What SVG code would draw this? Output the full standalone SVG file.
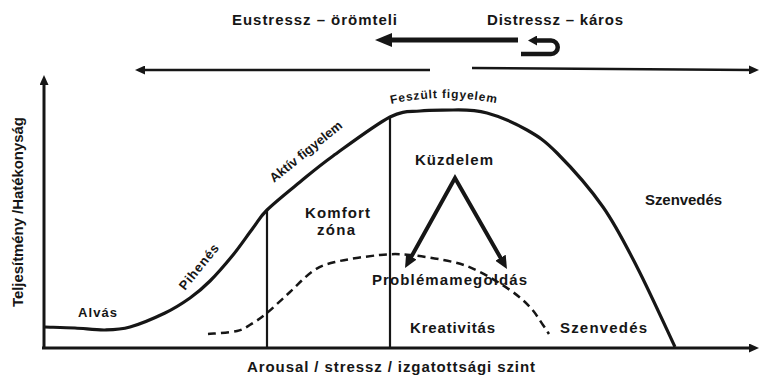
<svg xmlns="http://www.w3.org/2000/svg" width="759" height="378" viewBox="0 0 759 378">
<style>
text{font-family:"Liberation Sans",Arial,sans-serif;font-weight:bold;fill:#161616}
.t14{font-size:15px}
.t12{font-size:13px}
.t11{font-size:12px}
.ln{fill:none;stroke:#161616;stroke-linecap:butt}
</style>
<defs>
<marker id="ah" markerUnits="userSpaceOnUse" markerWidth="10" markerHeight="9" viewBox="0 0 10 9" refX="3" refY="4.5" orient="auto"><path d="M0,0 L10,4.5 L0,9 z" fill="#161616"/></marker>
<marker id="ahb" markerUnits="userSpaceOnUse" markerWidth="17" markerHeight="14" viewBox="0 0 17 14" refX="4" refY="7" orient="auto"><path d="M0,0 L17,7 L0,14 z" fill="#161616"/></marker>
<marker id="ahm" markerUnits="userSpaceOnUse" markerWidth="13" markerHeight="12" viewBox="0 0 13 12" refX="3" refY="6" orient="auto-start-reverse"><path d="M0,0 L13,6 L0,12 z" fill="#161616"/></marker>
<marker id="ahs" markerUnits="userSpaceOnUse" markerWidth="9" markerHeight="10" viewBox="0 0 9 10" refX="2" refY="5" orient="auto-start-reverse"><path d="M0,0 L9,5 L0,10 z" fill="#161616"/></marker>
<path id="fz" d="M391,104 Q445,92 499,104"/>
</defs>

<g id="connectors">
<path class="ln" d="M44,349 V82" stroke-width="3" marker-end="url(#ah)"/>
<path class="ln" d="M42,348 H752" stroke-width="3" marker-end="url(#ah)"/>
<path class="ln" d="M430,70 H142" stroke-width="2.5" marker-end="url(#ah)"/>
<path class="ln" d="M472,68 L752,70" stroke-width="2.5" marker-end="url(#ah)"/>
<path class="ln" d="M518,40 H388" stroke-width="5" marker-end="url(#ahb)"/>
<path class="ln" d="M535,40.5 H551 A6.75,6.75 0 0 1 551,54 H521" stroke-width="4.5" marker-start="url(#ahs)"/>
<path class="ln" d="M409.9,259.3 L455,178 L502,260.3" stroke-width="4" stroke-linejoin="miter" marker-start="url(#ahm)" marker-end="url(#ahm)"/>
<path class="ln" d="M267,210 V348" stroke-width="2.2"/>
<path class="ln" d="M390,117 V348" stroke-width="2.2"/>
</g>

<g id="main-curve">
<path class="ln" stroke-width="3.2" stroke-linejoin="round" d="M45,327 C50,327.2 65,327.5 75,328 C85,328.5 95.8,330.2 105,330 C114.2,329.8 120,329.8 130,327 C140,324.2 155,317.8 165,313 C175,308.2 182.5,303.3 190,298 C197.5,292.7 202.8,288.2 210,281 C217.2,273.8 225.8,263.8 233,255 C240.2,246.2 247.3,235.5 253,228 C258.7,220.5 259.2,217.7 267,210 C274.8,202.3 289,191 300,182 C311,173 318,166.8 333,156 C348,145.2 375.5,124.5 390,117 C404.5,110 409.5,112.2 420,111 C430.5,109.8 441.8,110.3 453,110 C464.2,109.7 474.7,109.7 487,113 C499.3,116.3 515.3,123.3 527,130 C538.7,136.7 544.3,140.2 557,153 C569.7,165.8 589.7,188 603,207 C616.3,226 625,243.7 637,267 C649,290.3 668.7,333.7 675,347"/>
</g>

<g id="dashed-curve">
<path class="ln" stroke-width="2.5" stroke-dasharray="8,5" d="M208,334 C212.8,333.5 229.5,332.8 237,331 C244.5,329.2 248,326 253,323 C258,320 260.8,318.2 267,313 C273.2,307.8 282.3,299 290,292 C297.7,285 305.5,276 313,271 C320.5,266 323.8,264.7 335,262 C346.2,259.3 367.5,256.2 380,255 C392.5,253.8 397.8,253.8 410,255 C422.2,256.2 441.3,259.2 453,262 C464.7,264.8 470.5,267.3 480,272 C489.5,276.7 501.7,284.2 510,290 C518.3,295.8 524.5,301.2 530,307 C535.5,312.8 539.8,320.5 543,325 C546.2,329.5 548,332.5 549,334"/>
</g>

<g id="title-eustress"><text class="t14" x="232" y="25" textLength="165" lengthAdjust="spacing">Eustressz – örömteli</text></g>
<g id="title-distress"><text class="t14" x="487" y="25" textLength="136" lengthAdjust="spacing">Distressz – káros</text></g>
<g id="y-label"><text class="t14" transform="translate(23,307) rotate(-90)" x="0" y="0" textLength="190" lengthAdjust="spacing">Teljesítmény /Hatékonyság</text></g>
<g id="x-label"><text class="t14" x="247" y="372" textLength="288" lengthAdjust="spacing">Arousal / stressz / izgatottsági szint</text></g>
<g id="alvas"><text class="t12" x="78" y="317" textLength="39" lengthAdjust="spacing">Alvás</text></g>
<g id="pihenes"><text class="t12" transform="translate(185,291) rotate(-51)" x="0" y="0" textLength="55" lengthAdjust="spacing">Pihenés</text></g>
<g id="aktiv"><text class="t12" transform="translate(274,183) rotate(-39)" x="0" y="0" textLength="89" lengthAdjust="spacing">Aktív figyelem</text></g>
<g id="feszult"><text class="t11"><textPath href="#fz" textLength="106" lengthAdjust="spacing">Feszült figyelem</textPath></text></g>
<g id="komfort"><text class="t14" x="305" y="218" textLength="65" lengthAdjust="spacing">Komfort</text><text class="t14" x="317" y="235" textLength="38" lengthAdjust="spacing">zóna</text></g>
<g id="kuzdelem"><text class="t14" x="415" y="165" textLength="78" lengthAdjust="spacing">Küzdelem</text></g>
<g id="szenvedes-top"><text class="t14" x="645" y="205" textLength="77" lengthAdjust="spacing">Szenvedés</text></g>
<g id="problema"><text class="t14" x="372" y="285" textLength="155" lengthAdjust="spacing">Problémamegoldás</text></g>
<g id="kreativitas"><text class="t14" x="410" y="333" textLength="85" lengthAdjust="spacing">Kreativitás</text></g>
<g id="szenvedes-bottom"><text class="t14" x="560" y="333" textLength="87" lengthAdjust="spacing">Szenvedés</text></g>
</svg>
